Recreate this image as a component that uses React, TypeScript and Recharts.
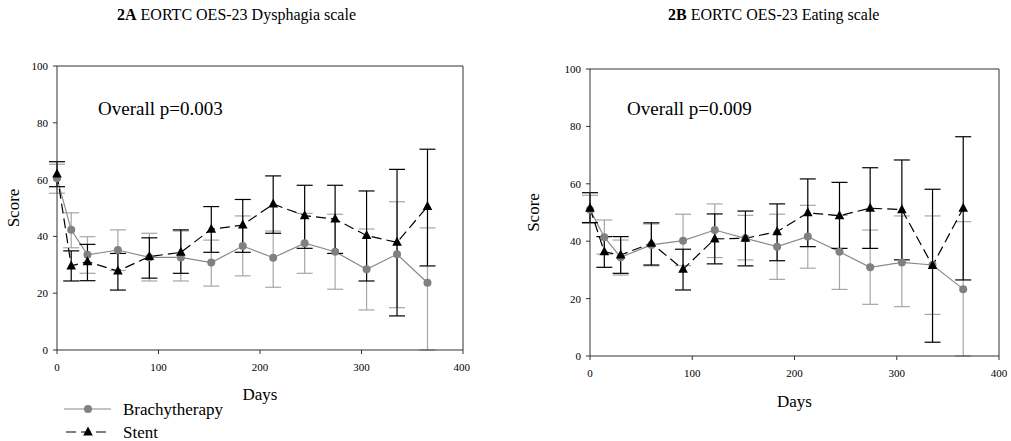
import React from 'react';
import { LineChart, Line, XAxis, YAxis, ErrorBar, ReferenceLine } from 'recharts';

const days = [0, 14, 30, 60, 91, 122, 152, 183, 213, 244, 274, 305, 335, 365];
const xTicks = [0, 100, 200, 300, 400];
const yTicks = [0, 20, 40, 60, 80, 100];

// 2A Dysphagia
const brachyDysMean = [60.5, 42.3, 33.5, 35.2, 32.6, 32.6, 30.8, 36.6, 32.5, 37.6, 34.6, 28.4, 33.7, 23.7];
const brachyDysLow = [55.2, 36.0, 27.0, 28.0, 24.3, 24.3, 22.5, 26.1, 22.1, 27.0, 21.4, 14.1, 14.9, 0];
const brachyDysHigh = [65.4, 48.3, 39.9, 42.3, 41.1, 41.9, 38.7, 47.2, 41.9, 48.1, 47.8, 42.6, 52.2, 43.0];
const stentDysMean = [62.0, 29.6, 31.1, 27.8, 32.9, 34.4, 42.5, 44.0, 51.4, 47.3, 46.1, 40.3, 37.9, 50.5];
const stentDysLow = [57.5, 24.3, 24.4, 21.1, 25.3, 27.0, 34.4, 34.4, 41.1, 35.8, 34.0, 24.3, 12.0, 29.6];
const stentDysHigh = [66.3, 34.9, 37.2, 34.0, 39.5, 42.3, 50.5, 53.0, 61.3, 58.0, 58.0, 56.0, 63.6, 70.7];

// 2B Eating
const brachyEatMean = [51.0, 41.4, 34.4, 38.7, 40.2, 43.9, 41.0, 38.1, 41.6, 36.3, 30.9, 32.6, 31.7, 23.3];
const brachyEatLow = [46.2, 35.5, 28.2, 31.4, 31.5, 34.3, 33.5, 26.7, 30.6, 23.2, 18.0, 17.2, 14.5, 0];
const brachyEatHigh = [56.0, 47.4, 40.4, 46.0, 49.4, 53.0, 49.0, 49.4, 52.5, 49.0, 43.9, 48.8, 48.8, 46.8];
const stentEatMean = [51.5, 36.3, 35.2, 39.3, 30.2, 40.8, 41.0, 43.3, 49.9, 48.9, 51.5, 51.0, 31.5, 51.5];
const stentEatLow = [46.5, 30.9, 28.8, 31.7, 23.0, 32.1, 31.4, 33.2, 38.1, 37.5, 37.5, 33.5, 4.8, 26.5];
const stentEatHigh = [56.9, 41.6, 41.6, 46.4, 37.2, 49.5, 50.5, 53.0, 61.7, 60.5, 65.6, 68.3, 58.1, 76.4];

const FONT = '"Liberation Serif", "Times New Roman", serif';

function makeRows(bm: number[], bl: number[], bh: number[], sm: number[], sl: number[], sh: number[]) {
  return days.map((d, i) => ({
    day: d,
    brachy: bm[i],
    brachyErr: [bm[i] - bl[i], bh[i] - bm[i]],
    stent: sm[i],
    stentErr: [sm[i] - sl[i], sh[i] - sm[i]],
  }));
}

const TriangleDot = (props: any) => {
  const { cx, cy, index } = props;
  if (cx == null || cy == null) return null;
  return <path key={`t-${index}`} d={`M${cx},${cy - 5.5}L${cx + 4.8},${cy + 3.5}L${cx - 4.8},${cy + 3.5}Z`} fill="#000" />;
};

type PanelProps = {
  rows: any[];
  width: number;
  margin: { top: number; right: number; left: number; bottom: number };
  yAxisWidth: number;
  daysOffset: number;
};

function Panel({ rows, width, margin, yAxisWidth, daysOffset }: PanelProps) {
  return (
    <LineChart width={width} height={441} data={rows} margin={margin} style={{ fontFamily: FONT }}>
      <XAxis
        type="number"
        dataKey="day"
        domain={[0, 400]}
        ticks={xTicks}
        height={30}
        stroke="#333"
        tickSize={4}
        tickMargin={9}
        tick={{ fontSize: 11, fill: '#000', fontFamily: FONT }}
        label={{ value: 'Days', position: 'bottom', offset: daysOffset, fontSize: 17, fill: '#000', fontFamily: FONT }}
      />
      <YAxis
        type="number"
        domain={[0, 100]}
        ticks={yTicks}
        width={yAxisWidth}
        stroke="#333"
        tickSize={4}
        tickMargin={5}
        tick={{ fontSize: 11, fill: '#000', fontFamily: FONT }}
        label={{
          content: (p: any) => {
            const vb = p.viewBox || {};
            const cx = vb.x + 13;
            const cy = vb.y + vb.height / 2;
            return (
              <text x={cx} y={cy} transform={`rotate(-90 ${cx} ${cy})`} textAnchor="middle" dominantBaseline="central" fontSize={17} style={{ fontFamily: FONT }} fill="#000">
                Score
              </text>
            );
          },
        }}
      />
      <ReferenceLine y={100} stroke="#333" />
      <ReferenceLine x={400} stroke="#333" />
      <Line
        dataKey="brachy"
        stroke="#8a8a8a"
        strokeWidth={1.2}
        isAnimationActive={false}
        dot={{ r: 4, fill: '#808080', stroke: '#808080', strokeWidth: 0 }}
        activeDot={false}
      >
        <ErrorBar dataKey="brachyErr" width={8} stroke="#a6a6a6" strokeWidth={1.2} direction="y" />
      </Line>
      <Line
        dataKey="stent"
        stroke="#000"
        strokeWidth={1.2}
        strokeDasharray="10 5"
        isAnimationActive={false}
        dot={TriangleDot}
        activeDot={false}
      >
        <ErrorBar dataKey="stentErr" width={8} stroke="#000" strokeWidth={1.2} direction="y" />
      </Line>
    </LineChart>
  );
}

export default function App() {
  const dysRows = makeRows(brachyDysMean, brachyDysLow, brachyDysHigh, stentDysMean, stentDysLow, stentDysHigh);
  const eatRows = makeRows(brachyEatMean, brachyEatLow, brachyEatHigh, stentEatMean, stentEatLow, stentEatHigh);
  const titleStyle: React.CSSProperties = { position: 'absolute', top: 5, fontSize: 16, whiteSpace: 'nowrap', lineHeight: '20px', color: '#000' };
  const pStyle: React.CSSProperties = { position: 'absolute', top: 98, fontSize: 19, whiteSpace: 'nowrap', lineHeight: '22px', color: '#000' };
  const legText: React.CSSProperties = { fontSize: 17, fontFamily: FONT };
  return (
    <div style={{ position: 'absolute', left: 0, top: 0, width: 1011, height: 441, background: '#fff', overflow: 'hidden', fontFamily: FONT }}>
      <div style={{ ...titleStyle, left: 117 }}><b>2A</b> EORTC OES-23 Dysphagia scale</div>
      <div style={{ ...titleStyle, left: 668 }}><b>2B</b> EORTC OES-23 Eating scale</div>
      <div style={{ position: 'absolute', left: 0, top: 0 }}>
        <Panel rows={dysRows} width={470} margin={{ top: 66, right: 7, left: 0, bottom: 61 }} yAxisWidth={57} daysOffset={8} />
      </div>
      <div style={{ position: 'absolute', left: 520, top: 0 }}>
        <Panel rows={eatRows} width={491} margin={{ top: 69, right: 12, left: 0, bottom: 55 }} yAxisWidth={70} daysOffset={9} />
      </div>
      <div style={{ ...pStyle, left: 98 }}>Overall p=0.003</div>
      <div style={{ ...pStyle, left: 627 }}>Overall p=0.009</div>
      <svg style={{ position: 'absolute', left: 0, top: 398 }} width={260} height={43}>
        <line x1={64} y1={11} x2={111} y2={11} stroke="#8a8a8a" strokeWidth={1.2} />
        <circle cx={88} cy={11} r={4} fill="#808080" />
        <text x={123} y={17} style={legText} fill="#000">Brachytherapy</text>
        <line x1={64} y1={34} x2={111} y2={34} stroke="#000" strokeWidth={1.2} strokeDasharray="10 5" strokeDashoffset={-2} />
        <path d="M88,28.5L92.8,37.5L83.2,37.5Z" fill="#000" />
        <text x={123} y={40} style={legText} fill="#000">Stent</text>
      </svg>
    </div>
  );
}
